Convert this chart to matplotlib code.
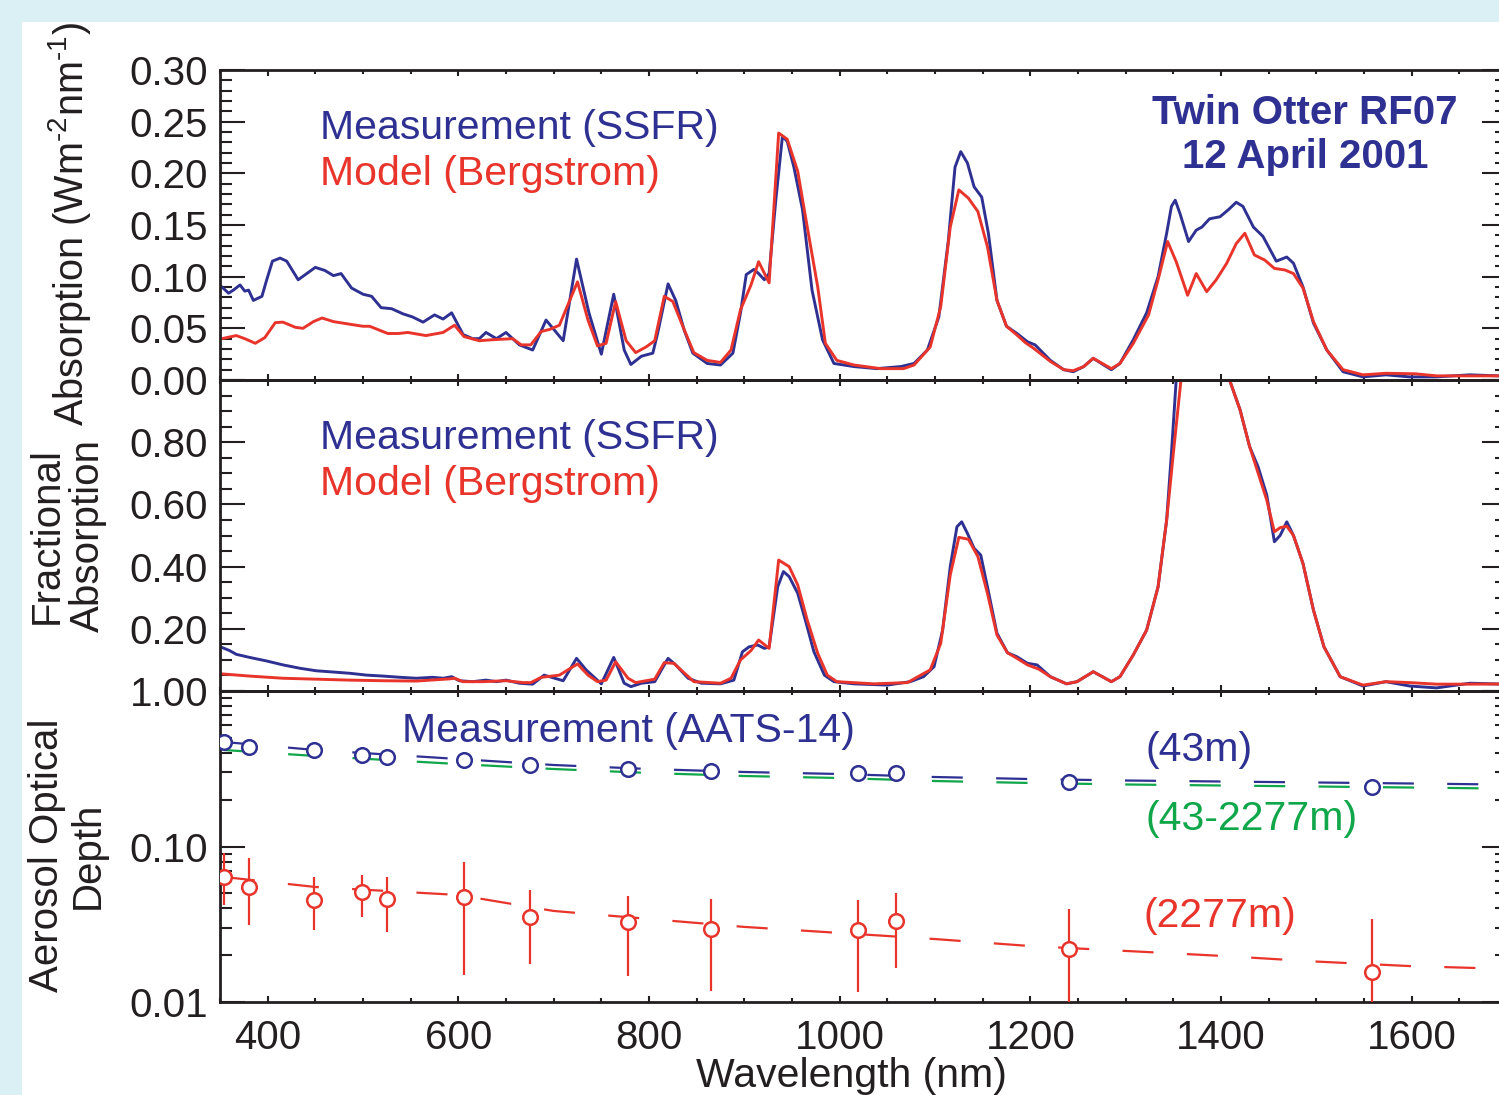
import numpy as np
import matplotlib.pyplot as plt
from matplotlib.patches import Rectangle
from matplotlib.ticker import MultipleLocator, FixedLocator, NullFormatter, LogLocator

plt.rcParams['font.family'] = ['Liberation Sans', 'DejaVu Sans']
plt.rcParams['mathtext.fontset'] = 'custom'
plt.rcParams['mathtext.rm'] = 'Liberation Sans'
plt.rcParams['mathtext.default'] = 'regular'

NAVY = '#2e3192'
RED = '#e8342a'
GREEN = '#10a64a'
INK = '#231f20'
BORDER = '#daf0f5'

# --- spectral absorption (W m-2 nm-1) ---
abs_nm_ssfr = [352, 359, 364, 371, 376, 380, 385, 394, 399, 405, 413, 420, 432, 441, 450, 460, 469, 477,
               488, 500, 509, 519, 530, 542, 552, 563, 575, 584, 593, 605, 615, 622, 629, 640, 650, 664,
               678, 692, 710, 724, 737, 750, 763, 774, 781, 792, 804, 809, 820, 828, 837, 846, 861, 875,
               888, 896, 902, 910, 915, 921, 926, 933, 940, 945, 952, 961, 971, 982, 994, 1015, 1039, 1064,
               1078, 1092, 1104, 1114, 1121, 1127, 1134, 1141, 1149, 1156, 1165, 1175, 1186, 1197, 1205,
               1221, 1235, 1245, 1256, 1266, 1277, 1285, 1294, 1308, 1322, 1334, 1343, 1348, 1352, 1357,
               1366, 1374, 1380, 1388, 1399, 1408, 1416, 1423, 1434, 1444, 1458, 1469, 1476, 1486, 1497,
               1511, 1528, 1549, 1573, 1598, 1626, 1661, 1691]
abs_ssfr = [0.090, 0.084, 0.087, 0.092, 0.086, 0.087, 0.077, 0.081, 0.097, 0.115, 0.118, 0.115, 0.097, 0.103,
            0.109, 0.106, 0.101, 0.103, 0.089, 0.083, 0.081, 0.070, 0.069, 0.064, 0.061, 0.056, 0.063, 0.059,
            0.065, 0.044, 0.040, 0.040, 0.046, 0.040, 0.046, 0.034, 0.029, 0.058, 0.038, 0.117, 0.065, 0.025,
            0.083, 0.029, 0.015, 0.023, 0.026, 0.045, 0.093, 0.077, 0.048, 0.026, 0.016, 0.0145, 0.026, 0.065,
            0.102, 0.107, 0.103, 0.097, 0.103, 0.174, 0.236, 0.231, 0.206, 0.165, 0.087, 0.039, 0.016, 0.013,
            0.011, 0.013, 0.016, 0.029, 0.061, 0.135, 0.206, 0.221, 0.210, 0.187, 0.177, 0.142, 0.077, 0.052,
            0.045, 0.037, 0.034, 0.019, 0.010, 0.008, 0.013, 0.021, 0.0145, 0.010, 0.016, 0.039, 0.065, 0.100,
            0.142, 0.168, 0.174, 0.161, 0.134, 0.145, 0.148, 0.156, 0.158, 0.165, 0.172, 0.168, 0.148, 0.139,
            0.115, 0.119, 0.113, 0.090, 0.055, 0.029, 0.008, 0.003, 0.005, 0.003, 0.003, 0.005, 0.004]

abs_nm_model = [352, 367, 376, 387, 397, 408, 416, 429, 437, 448, 457, 469, 486, 500, 507, 526, 537, 547, 566,
                584, 596, 606, 622, 636, 657, 666, 676, 687, 696, 706, 725, 736, 746, 755, 765, 776, 786, 797,
                806, 816, 825, 835, 847, 861, 875, 886, 896, 907, 915, 926, 936, 945, 956, 966, 977, 985, 997,
                1015, 1043, 1067, 1078, 1095, 1106, 1116, 1125, 1135, 1145, 1155, 1165, 1175, 1186, 1195, 1203,
                1221, 1235, 1245, 1256, 1266, 1285, 1294, 1308, 1324, 1334, 1344, 1353, 1365, 1374, 1385, 1395,
                1406, 1416, 1425, 1435, 1446, 1456, 1467, 1476, 1486, 1497, 1511, 1528, 1549, 1573, 1604, 1626,
                1691]
abs_model = [0.040, 0.043, 0.040, 0.0355, 0.041, 0.0555, 0.056, 0.051, 0.050, 0.0565, 0.060, 0.0565, 0.054,
             0.052, 0.052, 0.045, 0.045, 0.046, 0.043, 0.046, 0.053, 0.042, 0.038, 0.039, 0.040, 0.034, 0.034,
             0.047, 0.049, 0.053, 0.095, 0.058, 0.033, 0.0355, 0.076, 0.038, 0.0265, 0.032, 0.038, 0.081, 0.076,
             0.053, 0.0265, 0.019, 0.017, 0.029, 0.068, 0.092, 0.1145, 0.094, 0.239, 0.233, 0.202, 0.148, 0.090,
             0.0355, 0.019, 0.0145, 0.011, 0.011, 0.0145, 0.032, 0.071, 0.148, 0.184, 0.176, 0.163, 0.129, 0.077,
             0.052, 0.0435, 0.036, 0.031, 0.018, 0.010, 0.009, 0.013, 0.021, 0.011, 0.016, 0.0355, 0.063, 0.097,
             0.134, 0.1145, 0.082, 0.103, 0.0855, 0.097, 0.113, 0.132, 0.142, 0.121, 0.116, 0.108, 0.1065, 0.103,
             0.089, 0.0565, 0.029, 0.010, 0.005, 0.0065, 0.006, 0.004, 0.004]

# --- fractional absorption ---
frac_nm_ssfr = [352, 360, 367, 381, 399, 416, 434, 451, 469, 486, 504, 521, 539, 556, 573, 584, 593, 601, 615,
                629, 640, 650, 664, 678, 690, 710, 724, 734, 750, 763, 774, 781, 792, 806, 820, 828, 841, 855,
                875, 889, 898, 905, 914, 921, 926, 935, 941, 947, 956, 964, 973, 984, 994, 1015, 1050, 1074,
                1088, 1099, 1108, 1116, 1123, 1128, 1134, 1141, 1148, 1155, 1165, 1176, 1186, 1197, 1207, 1221,
                1238, 1249, 1266, 1285, 1294, 1308, 1322, 1334, 1343, 1348, 1353, 1365, 1385, 1400, 1409, 1420,
                1430, 1439, 1448, 1456, 1462, 1469, 1476, 1486, 1497, 1508, 1525, 1549, 1573, 1598, 1626, 1661,
                1691]
frac_ssfr = [0.140, 0.130, 0.118, 0.108, 0.0965, 0.084, 0.073, 0.065, 0.061, 0.057, 0.051, 0.048, 0.044, 0.041,
             0.044, 0.041, 0.046, 0.033, 0.030, 0.035, 0.030, 0.035, 0.025, 0.022, 0.051, 0.033, 0.105, 0.068,
             0.023, 0.108, 0.025, 0.014, 0.025, 0.030, 0.105, 0.084, 0.041, 0.025, 0.023, 0.035, 0.126, 0.142,
             0.148, 0.137, 0.142, 0.335, 0.384, 0.368, 0.314, 0.228, 0.126, 0.051, 0.030, 0.023, 0.019, 0.030,
             0.046, 0.078, 0.196, 0.400, 0.528, 0.544, 0.507, 0.459, 0.437, 0.335, 0.186, 0.123, 0.110, 0.089,
             0.084, 0.046, 0.023, 0.030, 0.062, 0.030, 0.046, 0.116, 0.196, 0.335, 0.55, 0.764, 1.0, 1.35, 1.6,
             1.3, 1.0, 0.904, 0.786, 0.72, 0.63, 0.48, 0.50, 0.544, 0.50, 0.41, 0.26, 0.142, 0.046, 0.016,
             0.030, 0.016, 0.010, 0.025, 0.0225]

frac_nm_model = [352, 381, 416, 451, 486, 521, 556, 591, 596, 605, 626, 650, 668, 676, 687, 706, 725, 736, 746,
                 755, 765, 778, 786, 806, 816, 826, 847, 875, 886, 896, 907, 915, 926, 936, 947, 956, 966, 977,
                 987, 997, 1036, 1071, 1095, 1106, 1116, 1125, 1135, 1145, 1155, 1165, 1176, 1186, 1197, 1209,
                 1221, 1238, 1249, 1266, 1285, 1294, 1308, 1322, 1334, 1343, 1350, 1358, 1370, 1390, 1402, 1409,
                 1420, 1430, 1439, 1448, 1456, 1462, 1469, 1476, 1486, 1497, 1508, 1525, 1549, 1573, 1598, 1626,
                 1661, 1691]
frac_model = [0.055, 0.048, 0.041, 0.038, 0.035, 0.033, 0.032, 0.039, 0.041, 0.030, 0.030, 0.033, 0.027, 0.027,
              0.044, 0.051, 0.087, 0.051, 0.030, 0.035, 0.094, 0.041, 0.027, 0.038, 0.091, 0.089, 0.030, 0.025,
              0.041, 0.100, 0.130, 0.164, 0.137, 0.421, 0.400, 0.341, 0.228, 0.121, 0.051, 0.030, 0.023, 0.027,
              0.068, 0.153, 0.373, 0.494, 0.488, 0.432, 0.314, 0.180, 0.123, 0.105, 0.084, 0.070, 0.046, 0.023,
              0.030, 0.062, 0.030, 0.046, 0.116, 0.196, 0.335, 0.55, 0.764, 1.0, 1.35, 1.6, 1.3, 1.0, 0.904,
              0.786, 0.70, 0.614, 0.512, 0.525, 0.530, 0.50, 0.41, 0.26, 0.142, 0.046, 0.019, 0.030, 0.027, 0.022,
              0.022, 0.0225]

# --- aerosol optical depth (AATS-14 channels) ---
aats_nm = [354, 380, 449, 499, 525, 606, 675, 778, 865, 1019, 1059, 1241, 1558]
tau_43m = [0.470, 0.436, 0.417, 0.388, 0.376, 0.360, 0.334, 0.315, 0.306, 0.297, 0.297, 0.260, 0.241]
tau_2277m = [0.0637, 0.055, 0.0453, 0.051, 0.046, 0.0475, 0.035, 0.0325, 0.0293, 0.029, 0.0333, 0.0219, 0.0157]
tau_2277m_lo = [0.042, 0.0313, 0.029, 0.0352, 0.0283, 0.0149, 0.0176, 0.0146, 0.0118, 0.0116, 0.0165, 0.008, 0.007]
tau_2277m_hi = [0.0908, 0.0843, 0.064, 0.0656, 0.064, 0.0795, 0.0525, 0.048, 0.046, 0.0453, 0.0504, 0.0397, 0.0342]

fit_nm = [354, 450, 600, 700, 800, 900, 1000, 1100, 1200, 1300, 1400, 1500, 1600, 1690]
fit_43m = [0.470, 0.4175, 0.3653, 0.3343, 0.3150, 0.3014, 0.2925, 0.2798, 0.2716, 0.2657, 0.2618, 0.2580,
           0.2542, 0.2505]
fit_column = [0.4175, 0.382, 0.339, 0.315, 0.297, 0.284, 0.2757, 0.2637, 0.2561, 0.2505, 0.2468, 0.2431,
              0.2395, 0.236]
fit_2277m = [0.0637, 0.0549, 0.0488, 0.0385, 0.0342, 0.0304, 0.0278, 0.0254, 0.0229, 0.0213, 0.0198, 0.0182,
             0.0170, 0.0164]

W, H = 1499, 1095
fig = plt.figure(figsize=(W / 100, H / 100), dpi=100, facecolor=BORDER)
fig.add_artist(Rectangle((22 / W, 0), 1, 1 - 22 / H, transform=fig.transFigure,
                         facecolor='white', edgecolor='none', zorder=-10))


def fx(px):
    return px / W


def fy(py):
    return 1 - py / H


left, width = 220 / W, 1287 / W
ax1 = fig.add_axes([left, fy(380), width, 310 / H])
ax2 = fig.add_axes([left, fy(691), width, 311 / H])
ax3 = fig.add_axes([left, fy(1002), width, 311 / H])

for ax in (ax1, ax2, ax3):
    ax.set_facecolor('none')
    ax.set_xlim(350, 1700)
    ax.xaxis.set_major_locator(FixedLocator(list(range(400, 1700, 200))))
    ax.xaxis.set_minor_locator(MultipleLocator(50))
    ax.tick_params(which='both', direction='in', top=True, right=True, width=1.5,
                   color=INK, labelcolor=INK, labelsize=29)
    ax.tick_params(axis='y', which='major', length=18, pad=8.5)
    ax.tick_params(axis='y', which='minor', length=8.6)
    ax.tick_params(axis='x', which='major', length=4.5, pad=12.5)
    ax.tick_params(axis='x', which='minor', length=3)
    for s in ax.spines.values():
        s.set_linewidth(2)
        s.set_color(INK)

ax1.tick_params(labelbottom=False)
ax2.tick_params(labelbottom=False)

# top: absolute absorption
ax1.plot(abs_nm_ssfr, abs_ssfr, color=NAVY, lw=2.1)
ax1.plot(abs_nm_model, abs_model, color=RED, lw=2.1)
ax1.set_ylim(0, 0.30)
ax1.set_yticks(np.arange(0, 0.301, 0.05))
ax1.set_yticklabels(['0.00', '0.05', '0.10', '0.15', '0.20', '0.25', '0.30'])
ax1.yaxis.set_minor_locator(MultipleLocator(0.01))

# middle: fractional absorption
ax2.plot(frac_nm_ssfr, frac_ssfr, color=NAVY, lw=2.1)
ax2.plot(frac_nm_model, frac_model, color=RED, lw=2.1)
ax2.set_ylim(0, 1.0)
ax2.set_yticks([0, 0.2, 0.4, 0.6, 0.8, 1.0])
ax2.set_yticklabels(['', '0.20', '0.40', '0.60', '0.80', ''])
ax2.yaxis.set_minor_locator(MultipleLocator(0.05))

# bottom: aerosol optical depth
ax3.set_yscale('log')
ax3.plot(fit_nm, fit_column, color=GREEN, lw=1.6, dashes=(14, 15))
ax3.plot(fit_nm, fit_43m, color=NAVY, lw=1.6, dashes=(14, 15))
ax3.plot(fit_nm, fit_2277m, color=RED, lw=1.6, dashes=(14, 15))
ax3.plot(aats_nm, tau_43m, 'o', ms=10.5, mfc='white', mec=NAVY, mew=1.8, zorder=5)
err_lo = np.array(tau_2277m) - np.array(tau_2277m_lo)
err_hi = np.array(tau_2277m_hi) - np.array(tau_2277m)
ax3.errorbar(aats_nm, tau_2277m, yerr=[err_lo, err_hi], fmt='o', ms=10.5, mfc='white', mec=RED,
             mew=1.8, ecolor=RED, elinewidth=1.6, capsize=0, zorder=5)
ax3.set_ylim(0.01, 1.0)
ax3.set_yticks([0.01, 0.1, 1.0])
ax3.set_yticklabels(['0.01', '0.10', '1.00'])
ax3.yaxis.set_minor_locator(LogLocator(base=10, subs=np.arange(2, 10)))
ax3.yaxis.set_minor_formatter(NullFormatter())
ax3.set_xlabel('Wavelength (nm)', fontsize=29.5, color=INK)
ax3.xaxis.set_label_coords(0.491, -0.178)

# overlaid blue major ticks left by the second plot layer
blue_y = {ax1: [0.0, 0.05, 0.30], ax2: [0.0, 0.2], ax3: [0.1, 1.0]}
for ax in (ax1, ax2, ax3):
    for t, loc in zip(ax.xaxis.get_major_ticks(), ax.xaxis.get_majorticklocs()):
        if loc >= 600:
            t.tick1line.set_color(NAVY)
            if ax is not ax1:
                t.tick2line.set_color(NAVY)
    for t, loc in zip(ax.yaxis.get_major_ticks(), ax.yaxis.get_majorticklocs()):
        if any(abs(loc - b) < 1e-9 for b in blue_y[ax]):
            t.tick1line.set_color(NAVY)

# axis titles (hyphen superscripts keep the unit compact)
fig.text(fx(70), fy(224), 'Absorption (Wm$^{\u20102}$nm$^{\u20101}$)', rotation=90, ha='center',
         va='center', fontsize=28.5, color=INK)
fig.text(fx(67), fy(535), 'Fractional\nAbsorption', rotation=90, ha='center', va='center',
         fontsize=29, color=INK, linespacing=1.1)
fig.text(fx(67), fy(855), 'Aerosol Optical\nDepth', rotation=90, ha='center', va='center',
         fontsize=29, color=INK, linespacing=1.1)

# annotations
fig.text(fx(320), fy(128), 'Measurement (SSFR)', color=NAVY, fontsize=29.5, va='center')
fig.text(fx(320), fy(174), 'Model (Bergstrom)', color=RED, fontsize=29.5, va='center')
fig.text(fx(320), fy(438), 'Measurement (SSFR)', color=NAVY, fontsize=29.5, va='center')
fig.text(fx(320), fy(484), 'Model (Bergstrom)', color=RED, fontsize=29.5, va='center')
fig.text(fx(1305), fy(135), 'Twin Otter RF07\n12 April 2001', color=NAVY, fontsize=29,
         fontweight='bold', ha='center', va='center', linespacing=1.2)
fig.text(fx(402), fy(731), 'Measurement (AATS-14)', color=NAVY, fontsize=29.5, va='center')
fig.text(fx(1146), fy(750), '(43m)', color=NAVY, fontsize=29.5, va='center')
fig.text(fx(1146), fy(819), '(43-2277m)', color=GREEN, fontsize=29.5, va='center')
fig.text(fx(1144), fy(916), '(2277m)', color=RED, fontsize=29.5, va='center')

fig.savefig('out.png', dpi=100, facecolor=fig.get_facecolor())
